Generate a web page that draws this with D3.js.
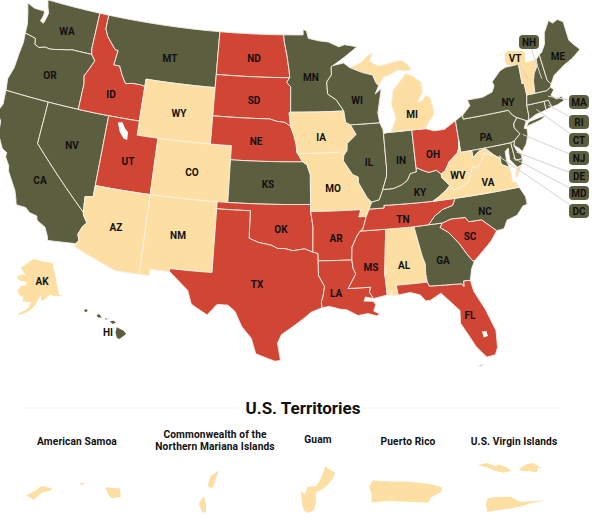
<!DOCTYPE html>
<html><head><meta charset="utf-8">
<script src="https://cdn.jsdelivr.net/npm/d3@7"></script>
<style>html,body{margin:0;padding:0;background:#fff}svg{display:block}text{font-family:Roboto,sans-serif}</style>
</head><body><svg id="c" width="600" height="523"></svg>
<script>
// ---- Data: status groups ----
const groupOlive=["WA","OR","CA","NV","MT","MN","WI","IL","IN","KY","KS","NY","PA","NC","GA","HI","ME","NH","MA","RI","CT","NJ","DE","MD","DC"];
const groupRed=["ID","UT","ND","SD","NE","OK","TX","AR","LA","MS","TN","SC","FL","OH"];
const groupCream=["WY","CO","AZ","NM","IA","MO","MI","AL","WV","VA","VT","AK"];
const territoryNames=[["American Samoa"],["Commonwealth of the","Northern Mariana Islands"],["Guam"],["Puerto Rico"],["U.S. Virgin Islands"]];
const sectionTitle="U.S. Territories";

// ---- Data: outlines as [lon,lat] rings ----
const WA=[[[-124.72,48.38],[-123.9,48.16],[-123.1,48.15],[-122.75,48.15],[-122.75,47.8],[-122.9,47.4],[-122.55,47.3],[-122.4,47.7],[-122.3,48.1],[-122.55,48.5],[-122.76,49],[-117.03,49],[-117.04,46.42],[-116.92,46],[-119,46],[-119.3,45.93],[-119.9,45.85],[-120.6,45.73],[-121.2,45.65],[-121.7,45.7],[-122.3,45.55],[-122.8,45.7],[-122.9,46.1],[-123.2,46.15],[-124.05,46.27],[-124.1,46.9],[-124.4,47.7]]];
const OR=[[[-124.05,46.27],[-123.2,46.15],[-122.9,46.1],[-122.8,45.7],[-122.3,45.55],[-121.7,45.7],[-121.2,45.65],[-120.6,45.73],[-119.9,45.85],[-119.3,45.93],[-119,46],[-116.92,46],[-116.47,45.6],[-116.85,44.95],[-117.2,44.4],[-117.03,43.85],[-117.03,42],[-120,42],[-124.21,42],[-124.4,42.8],[-124.1,43.7],[-124.05,44.7],[-123.95,45.6]]];
const CA=[[[-124.21,42],[-120,42],[-120,39],[-114.63,35],[-114.57,34.8],[-114.14,34.3],[-114.45,34],[-114.72,33.4],[-114.53,33],[-114.72,32.72],[-117.12,32.53],[-117.25,32.85],[-117.6,33.4],[-118.4,33.75],[-118.5,34.03],[-119.2,34.15],[-119.6,34.42],[-120.47,34.45],[-120.65,34.9],[-120.9,35.4],[-121.9,36.6],[-122,36.95],[-122.5,37.5],[-122.5,37.8],[-123,38],[-123.7,38.9],[-123.85,39.8],[-124.4,40.4],[-124.1,41],[-124.2,41.75]]];
const NV=[[[-120,42],[-117.03,42],[-114.04,42],[-114.04,37],[-114.04,36.2],[-114.75,36.1],[-114.63,35],[-120,39]]];
const ID=[[[-117.03,49],[-116.05,49],[-116.05,48],[-115.7,47.5],[-114.7,46.7],[-114.35,46.65],[-114.5,45.6],[-113.9,45.6],[-113.45,44.95],[-113,44.45],[-112.3,44.55],[-111.5,44.55],[-111.05,44.48],[-111.05,42],[-114.04,42],[-117.03,42],[-117.03,43.85],[-117.2,44.4],[-116.85,44.95],[-116.47,45.6],[-116.92,46],[-117.04,46.42]]];
const MT=[[[-116.05,49],[-104.05,49],[-104.05,45.94],[-104.05,45],[-111.05,45],[-111.05,44.48],[-111.5,44.55],[-112.3,44.55],[-113,44.45],[-113.45,44.95],[-113.9,45.6],[-114.5,45.6],[-114.35,46.65],[-114.7,46.7],[-115.7,47.5],[-116.05,48]]];
const WY=[[[-111.05,45],[-104.05,45],[-104.05,43],[-104.05,41],[-109.05,41],[-111.05,41],[-111.05,42],[-111.05,44.48]]];
const UT=[[[-114.04,42],[-111.05,42],[-111.05,41],[-109.05,41],[-109.05,37],[-114.04,37]]];
const AZ=[[[-114.04,37],[-109.05,37],[-109.05,31.33],[-111.07,31.33],[-114.81,32.5],[-114.72,32.72],[-114.53,33],[-114.72,33.4],[-114.45,34],[-114.14,34.3],[-114.57,34.8],[-114.63,35],[-114.75,36.1],[-114.04,36.2]]];
const CO=[[[-109.05,41],[-104.05,41],[-102.05,41],[-102.05,40],[-102.05,37],[-103,37],[-109.05,37]]];
const NM=[[[-109.05,37],[-103,37],[-103,36.5],[-103,32],[-106.62,32],[-106.53,31.78],[-108.21,31.78],[-108.21,31.33],[-109.05,31.33]]];
const ND=[[[-104.05,49],[-97.23,49],[-97.15,48.5],[-96.85,47.5],[-96.6,46.35],[-96.56,45.94],[-104.05,45.94]]];
const SD=[[[-104.05,45.94],[-96.56,45.94],[-96.85,45.6],[-96.45,45.3],[-96.45,43.5],[-96.6,43.45],[-96.44,42.49],[-97,42.77],[-97.85,42.85],[-98.5,43],[-104.05,43],[-104.05,45]]];
const NE=[[[-104.05,43],[-98.5,43],[-97.85,42.85],[-97,42.77],[-96.44,42.49],[-96.1,41.8],[-95.9,41.2],[-95.85,40.7],[-95.31,40],[-102.05,40],[-102.05,41],[-104.05,41]]];
const KS=[[[-102.05,40],[-95.31,40],[-94.9,39.8],[-94.6,39.1],[-94.62,37],[-102.05,37]]];
const OK=[[[-103,37],[-102.05,37],[-94.62,37],[-94.62,36.5],[-94.43,35.4],[-94.48,33.64],[-95.2,33.88],[-96.2,33.75],[-96.9,33.9],[-97.5,33.9],[-98.1,34.13],[-99.2,34.3],[-100,34.56],[-100,36.5],[-103,36.5]]];
const TX=[[[-106.62,32],[-103,32],[-103,36.5],[-100,36.5],[-100,34.56],[-99.2,34.3],[-98.1,34.13],[-97.5,33.9],[-96.9,33.9],[-96.2,33.75],[-95.2,33.88],[-94.48,33.64],[-94.04,33.55],[-94.04,33.02],[-94.04,32],[-93.55,31.2],[-93.7,30.5],[-93.85,30.1],[-93.8,29.7],[-94.7,29.4],[-95.1,29.1],[-96,28.5],[-97.1,27.8],[-97.4,27.2],[-97.15,25.96],[-97.6,25.9],[-99.1,26.4],[-99.5,27.5],[-100.3,28.3],[-100.9,29.35],[-101.5,29.77],[-102.4,29.77],[-103.15,28.98],[-104.5,29.65],[-104.9,30.6],[-106,31.4],[-106.53,31.78]]];
const MN=[[[-97.23,49],[-95.15,49],[-95.15,49.38],[-94.8,49.3],[-94.6,48.75],[-93.5,48.55],[-92.5,48.45],[-91.4,48.07],[-90.8,48.2],[-89.5,48],[-90.9,47.3],[-92.1,46.75],[-92.29,46.65],[-92.29,46.1],[-92.8,45.6],[-92.75,44.75],[-91.9,44.3],[-91.22,43.5],[-96.45,43.5],[-96.45,45.3],[-96.85,45.6],[-96.56,45.94],[-96.6,46.35],[-96.85,47.5],[-97.15,48.5]]];
const IA=[[[-96.45,43.5],[-91.22,43.5],[-91.1,42.7],[-90.65,42.5],[-90.15,41.8],[-91.05,41.2],[-91.1,40.7],[-91.42,40.38],[-91.73,40.61],[-95.77,40.58],[-95.85,40.7],[-95.9,41.2],[-96.1,41.8],[-96.44,42.49],[-96.6,43.45]]];
const MO=[[[-95.77,40.58],[-91.73,40.61],[-91.42,40.38],[-91.5,40],[-90.7,39],[-90.2,38.8],[-90.2,38.4],[-89.5,37.3],[-89.13,36.98],[-89.4,36.5],[-89.7,36],[-90.37,36],[-90.15,36.5],[-94.62,36.5],[-94.62,37],[-94.6,39.1],[-94.9,39.8],[-95.31,40],[-95.85,40.7]]];
const AR=[[[-94.62,36.5],[-90.15,36.5],[-90.37,36],[-89.7,36],[-90.07,35.13],[-90.3,35],[-90.6,34.7],[-91.1,33.9],[-91.17,33],[-94.04,33.02],[-94.04,33.55],[-94.48,33.64],[-94.43,35.4]]];
const LA=[[[-94.04,33.02],[-91.17,33],[-91.1,32.4],[-90.9,32],[-91.6,31],[-89.73,31],[-89.85,30.65],[-89.55,30.18],[-90.2,30.33],[-90.35,30.05],[-89.6,30],[-89.4,29.75],[-89.6,29.3],[-89.1,29.05],[-89.4,28.95],[-90.1,29.15],[-90.9,29.05],[-91.8,29.5],[-92.3,29.55],[-93.2,29.78],[-93.8,29.7],[-93.85,30.1],[-93.7,30.5],[-93.55,31.2],[-94.04,32]]];
const MS=[[[-91.17,33],[-91.1,33.9],[-90.6,34.7],[-90.3,35],[-88.2,35],[-88.1,34.9],[-88.47,31.9],[-88.4,30.37],[-89.55,30.18],[-89.85,30.65],[-89.73,31],[-91.6,31],[-90.9,32],[-91.1,32.4]]];
const AL=[[[-88.2,35],[-85.6,34.98],[-85.18,32.87],[-85,32.3],[-85.05,31.55],[-85,31],[-87.6,31],[-87.5,30.3],[-88,30.25],[-88,30.65],[-88.1,30.35],[-88.4,30.37],[-88.47,31.9],[-88.1,34.9]]];
const FL=[[[-87.6,31],[-85,31],[-84.86,30.7],[-82.2,30.57],[-82.05,30.36],[-82,30.75],[-81.45,30.71],[-81.3,29.9],[-80.6,28.5],[-80.05,26.9],[-80.15,25.7],[-80.4,25.2],[-81.1,25.13],[-81.8,26],[-82.2,26.8],[-82.75,27.8],[-82.65,28.7],[-83.4,29.5],[-84,30.1],[-84.9,29.7],[-85.3,29.68],[-85.7,30.15],[-86.5,30.4],[-87.5,30.3]],[[-81.9,24.6],[-81.4,24.65],[-81.6,24.55]]];
const GA=[[[-85.6,34.98],[-84.32,35],[-83.11,35],[-83.35,34.7],[-82.7,34.3],[-81.9,33.4],[-81.4,32.6],[-81,32.05],[-80.85,32.03],[-81.2,31.5],[-81.45,30.71],[-82,30.75],[-82.05,30.36],[-82.2,30.57],[-84.86,30.7],[-85,31],[-85.05,31.55],[-85,32.3],[-85.18,32.87]]];
const SC=[[[-83.11,35],[-82.3,35.2],[-81.05,35.15],[-80.8,34.82],[-79.67,34.8],[-78.55,33.86],[-79.2,33.2],[-79.9,32.7],[-80.85,32.03],[-81,32.05],[-81.4,32.6],[-81.9,33.4],[-82.7,34.3],[-83.35,34.7]]];
const NC=[[[-84.32,35],[-83.11,35],[-82.3,35.2],[-81.05,35.15],[-80.8,34.82],[-79.67,34.8],[-78.55,33.86],[-77.9,33.9],[-77.5,34.45],[-76.55,34.65],[-75.9,35.2],[-75.5,35.25],[-75.5,35.8],[-75.87,36.55],[-81.68,36.59],[-82,36.12],[-82.9,35.95],[-83.7,35.55]]];
const TN=[[[-90.3,35],[-88.2,35],[-85.6,34.98],[-84.32,35],[-83.7,35.55],[-82.9,35.95],[-82,36.12],[-81.68,36.59],[-83.68,36.6],[-88.07,36.68],[-88.07,36.5],[-89.4,36.5],[-89.7,36],[-90.07,35.13]]];
const KY=[[[-89.4,36.5],[-88.07,36.5],[-88.07,36.68],[-83.68,36.6],[-83.1,36.85],[-82.3,37.3],[-81.97,37.54],[-82.6,38.17],[-82.6,38.42],[-83,38.73],[-83.7,38.65],[-84.25,38.85],[-84.82,39.1],[-84.85,38.8],[-85.4,38.73],[-85.75,38.27],[-86.3,38],[-87.1,37.8],[-88.05,37.8],[-88.45,37.1],[-89.13,36.98]]];
const IL=[[[-90.65,42.5],[-87.8,42.5],[-87.55,42],[-87.53,41.7],[-87.53,39.35],[-87.6,38.7],[-88.05,37.8],[-88.45,37.1],[-89.13,36.98],[-89.5,37.3],[-90.2,38.4],[-90.2,38.8],[-90.7,39],[-91.5,40],[-91.42,40.38],[-91.1,40.7],[-91.05,41.2],[-90.15,41.8]]];
const IN=[[[-87.53,41.7],[-87.2,41.75],[-86.82,41.76],[-84.8,41.76],[-84.82,39.1],[-84.85,38.8],[-85.4,38.73],[-85.75,38.27],[-86.3,38],[-87.1,37.8],[-88.05,37.8],[-87.6,38.7],[-87.53,39.35]]];
const OH=[[[-84.8,41.76],[-83.45,41.73],[-82.7,41.5],[-81.7,41.5],[-80.52,41.98],[-80.52,40.64],[-80.65,40],[-80.85,39.7],[-81.7,39.2],[-82.2,38.6],[-82.6,38.42],[-83,38.73],[-83.7,38.65],[-84.25,38.85],[-84.82,39.1]]];
const MI=[[[-86.82,41.76],[-84.8,41.76],[-83.45,41.73],[-83.15,42.1],[-82.5,42.6],[-82.45,43],[-82.6,43.85],[-83,44.07],[-83.5,43.7],[-83.9,43.65],[-83.3,44.3],[-83.3,45],[-84,45.5],[-84.75,45.78],[-85.5,45.2],[-86.2,44.7],[-86.5,43.7],[-86.2,42.7]],[[-90.4,46.55],[-89.2,46.85],[-88.4,47.35],[-87.9,47.47],[-88.3,46.9],[-87.4,46.5],[-85.9,46.68],[-85,46.75],[-84.5,46.45],[-84.1,46],[-84.7,45.95],[-85.5,46.08],[-86.4,45.8],[-87,45.7],[-87.6,45.1],[-87.85,45.35],[-88.1,45.9],[-89.1,46.13]]];
const WI=[[[-92.1,46.75],[-91,46.9],[-90.4,46.55],[-89.1,46.13],[-88.1,45.9],[-87.85,45.35],[-87.6,45.1],[-88,44.55],[-87.35,44.9],[-87.55,44.3],[-87.9,43.2],[-87.8,42.5],[-90.65,42.5],[-91.1,42.7],[-91.22,43.5],[-91.9,44.3],[-92.75,44.75],[-92.8,45.6],[-92.29,46.1],[-92.29,46.65]]];
const PA=[[[-80.52,41.98],[-80.1,42.15],[-79.76,42.27],[-79.76,42],[-75.35,42],[-75.05,41.6],[-74.7,41.36],[-75.1,41],[-75.15,40.7],[-74.75,40.2],[-75.4,39.8],[-75.79,39.72],[-79.48,39.72],[-80.52,39.72],[-80.52,40.64]]];
const NY=[[[-79.76,42.27],[-78.9,42.85],[-79.05,43.27],[-77.5,43.27],[-76.5,43.5],[-76.2,43.9],[-76.3,44.2],[-75.3,44.85],[-74.7,45],[-73.35,45],[-73.45,43.6],[-73.25,43.6],[-73.27,42.75],[-73.5,42.05],[-73.55,41.3],[-73.65,41],[-73.9,41],[-74.7,41.36],[-75.05,41.6],[-75.35,42],[-79.76,42]],[[-74,40.6],[-72.6,40.8],[-71.9,41.05],[-72.6,41],[-73.7,40.87]]];
const NJ=[[[-73.9,41],[-74.7,41.36],[-75.1,41],[-75.15,40.7],[-74.75,40.2],[-75.4,39.8],[-75.55,39.5],[-75.1,39.2],[-74.9,38.95],[-74.4,39.4],[-74.05,40],[-74,40.45],[-74.25,40.5]]];
const DE=[[[-75.79,39.72],[-75.4,39.8],[-75.55,39.5],[-75.4,39.1],[-75.05,38.75],[-75.05,38.45],[-75.7,38.46]]];
const MD=[[[-79.48,39.72],[-75.79,39.72],[-75.7,38.46],[-75.05,38.45],[-75.2,38.03],[-75.65,37.95],[-75.9,38.25],[-76.2,38.6],[-76.1,39.4],[-76.45,39.2],[-76.5,38.5],[-76.35,38.05],[-76.9,38.3],[-77.05,38.4],[-77.04,38.8],[-77.5,39.1],[-77.75,39.3],[-78.2,39.68],[-78.8,39.6],[-79.48,39.2]]];
const DC=[[[-77.12,38.93],[-77.04,39],[-76.91,38.89],[-77.04,38.79]]];
const VA=[[[-83.68,36.6],[-81.68,36.59],[-75.87,36.55],[-76,36.93],[-76.35,37],[-76.3,37.6],[-76.35,38.05],[-76.9,38.3],[-77.05,38.4],[-77.04,38.8],[-77.5,39.1],[-77.75,39.3],[-77.83,39.14],[-78.35,39.4],[-78.87,38.76],[-79.3,38.42],[-79.65,38.6],[-80.3,37.55],[-81.2,37.25],[-81.68,37.2],[-81.97,37.54],[-82.3,37.3],[-83.1,36.85]],[[-75.65,37.95],[-75.2,38.03],[-75.95,37.15],[-75.95,37.5]]];
const WV=[[[-80.52,40.64],[-80.52,39.72],[-79.48,39.72],[-79.48,39.2],[-78.8,39.6],[-78.2,39.68],[-77.75,39.3],[-77.83,39.14],[-78.35,39.4],[-78.87,38.76],[-79.3,38.42],[-79.65,38.6],[-80.3,37.55],[-81.2,37.25],[-81.68,37.2],[-81.97,37.54],[-82.6,38.17],[-82.6,38.42],[-82.2,38.6],[-81.7,39.2],[-80.85,39.7],[-80.65,40]]];
const CT=[[[-73.5,42.05],[-71.8,42.02],[-71.8,41.4],[-72.9,41.25],[-73.65,41],[-73.55,41.3]]];
const RI=[[[-71.8,42.02],[-71.38,42.02],[-71.2,41.5],[-71.8,41.4]]];
const MA=[[[-73.5,42.05],[-73.27,42.75],[-72.46,42.73],[-71.3,42.7],[-70.85,42.87],[-70.6,42.65],[-71,42.3],[-70.6,41.95],[-70.05,42.05],[-69.95,41.7],[-70.6,41.55],[-71.2,41.5],[-71.38,42.02],[-71.8,42.02]]];
const VT=[[[-73.35,45],[-71.5,45.01],[-71.55,44.6],[-72.05,44.1],[-72.3,43.6],[-72.46,42.73],[-73.27,42.75],[-73.25,43.6],[-73.45,43.6]]];
const NH=[[[-71.5,45.01],[-71.08,45.3],[-70.98,43.4],[-70.7,43.07],[-70.85,42.87],[-71.3,42.7],[-72.46,42.73],[-72.3,43.6],[-72.05,44.1],[-71.55,44.6]]];
const ME=[[[-71.08,45.3],[-70.8,45.4],[-70.3,45.9],[-70,46.7],[-69.23,47.46],[-68.9,47.2],[-68.3,47.35],[-67.8,47.07],[-67.8,45.7],[-67.45,45.3],[-67,44.85],[-68,44.4],[-69,44.1],[-70.2,43.6],[-70.7,43.07],[-70.98,43.4]]];
const AK=[[[-141,69.65],[-141,60.3],[-139.5,59.9],[-137.3,59.3],[-139.5,59.7],[-141,59.9],[-143.5,60],[-146,60.7],[-148.5,60],[-150,59.3],[-151.8,59.2],[-151.3,60.8],[-150,61.2],[-152,60.5],[-153.5,59.5],[-154.5,58.2],[-156.5,57],[-158.5,56],[-161,55.2],[-164,54.6],[-162,55.8],[-160,56.2],[-158,57.5],[-157.2,58.8],[-159,58.6],[-162,58.7],[-162,59.9],[-164.5,60.5],[-166,61.6],[-165,62.6],[-164,63.1],[-161,63.5],[-161,64.5],[-163,64.5],[-166.5,64.6],[-168,65.6],[-164.5,66.5],[-162,66.2],[-163.8,67.1],[-166.5,68.3],[-163,69.5],[-160,70.5],[-156.5,71.3],[-152,70.8],[-148,70.4],[-144,70]]];
const HI=[[[-155.9,20.25],[-155.1,19.85],[-154.8,19.5],[-155.6,18.95],[-155.9,19.1],[-156.05,19.7]],[[-156.7,20.9],[-156.25,20.95],[-156,20.75],[-156.4,20.6]],[[-157.3,21.2],[-156.75,21.17],[-157.25,21.08]],[[-158.25,21.55],[-157.95,21.7],[-157.65,21.3],[-158.1,21.3]],[[-159.75,22.1],[-159.4,22.23],[-159.3,22],[-159.6,21.9]]];
const lakes=[[[-113.06,41.65],[-112.63,41.72],[-112.26,41.3],[-111.94,41.1],[-111.9,40.54],[-112.27,40.6],[-112.73,41.03]],[[-81.15,27.0],[-80.8,26.95],[-80.75,26.6],[-81.1,26.55]]];
const AS=[[[-171,-14.336],[-170.876,-14.277],[-170.75,-14.19],[-170.6,-14.23],[-170.63,-14.26],[-170.75,-14.287],[-170.876,-14.395],[-170.95,-14.346]],[[-170.2,-14.15],[-170.11,-14.15],[-170.16,-14.18]],[[-169.81,-14.21],[-169.59,-14.23],[-169.58,-14.35],[-169.71,-14.37],[-169.76,-14.33]]];
const MP=[[[145.8,15.3],[145.773,15.23],[145.741,15.134],[145.693,15.134],[145.693,15.172],[145.715,15.242]],[[145.651,15.05],[145.67,14.964],[145.67,14.89],[145.629,14.9],[145.6,14.974],[145.622,15.018]]];
const GU=[[[144.845,13.65],[144.878,13.62],[144.935,13.59],[144.908,13.53],[144.839,13.455],[144.758,13.41],[144.758,13.32],[144.74,13.254],[144.689,13.23],[144.644,13.254],[144.629,13.335],[144.62,13.425],[144.659,13.395],[144.68,13.464],[144.758,13.47],[144.8,13.53],[144.824,13.59]]];
const PR=[[[-67.27,18.44],[-67.21,18.52],[-66.97,18.506],[-66.73,18.506],[-66.397,18.472],[-66.278,18.444],[-66.22,18.425],[-66.23,18.363],[-66.373,18.29],[-66.42,18.22],[-66.73,18.229],[-66.97,18.243],[-67.232,18.22],[-67.232,18.339]]];
const VI=[[[-65.1,18.393],[-65.064,18.4],[-65.034,18.388],[-65.022,18.396],[-64.992,18.384],[-64.974,18.372],[-65.004,18.366],[-65.034,18.372],[-65.064,18.384]],[[-64.946,18.381],[-64.92,18.396],[-64.896,18.4],[-64.878,18.39],[-64.86,18.381],[-64.878,18.384],[-64.882,18.366],[-64.908,18.372],[-64.938,18.372]],[[-65.064,18.276],[-65.04,18.28],[-64.98,18.282],[-64.944,18.264],[-64.854,18.268],[-64.908,18.258],[-64.944,18.246],[-64.98,18.24],[-65.028,18.234],[-65.064,18.228],[-65.07,18.252]]];
const calloutCodes=["NH","VT","MA","RI","CT","NJ","DE","MD","DC"];
const calloutTargets=[[-71.45,43.6],[-72.75,43.8],[-71.3,42.3],[-71.5,41.7],[-72.7,41.6],[-74.5,40.1],[-75.45,39.0],[-75.85,38.65],[-77.03,38.9]];
const outlines={WA,OR,CA,NV,ID,MT,WY,UT,AZ,CO,NM,ND,SD,NE,KS,OK,TX,MN,IA,MO,AR,LA,MS,AL,FL,GA,SC,NC,TN,KY,IL,IN,OH,MI,WI,PA,NY,NJ,DE,MD,DC,VA,WV,CT,RI,MA,VT,NH,ME};

// ---- Layout ----
const C={olive:"#5c5e40",red:"#d14535",cream:"#fddfa3",line:"#f6f0e6",ink:"#111"};
const labelAt={WA:[67,31],OR:[50,75],CA:[40,180],NV:[72,145],ID:[111,94],MT:[170,58],WY:[179,113],UT:[128,161],AZ:[116,227],CO:[192,172],NM:[178,235],ND:[254,58],SD:[254,100],NE:[256,141],KS:[268,184],OK:[281,229],TX:[257,284],MN:[311,77],IA:[321,137],MO:[333,188],AR:[336,238],LA:[336,293],WI:[357,100],IL:[369,162],MS:[371,267],IN:[401,160],AL:[404,265],MI:[412,114],OH:[433,154],KY:[420,192],TN:[403,219],WV:[458,175],VA:[488,182],PA:[486,137],NY:[508,102],NC:[485,211],SC:[470,236],GA:[443,260],FL:[470,315],ME:[558,56],AK:[42,281],HI:[108,332]};
const badgeAt={NH:[529,42],VT:[515,58],MA:[579,102],RI:[579,122],CT:[579,140],NJ:[579,158],DE:[579,176],MD:[579,193],DC:[579,211]};
const territoryBoxes=[[[25,483],[121,500]],[[199,470],[219,513]],[[300,466],[336,513]],[[369,480],[442,503]],[[477,463],[545,512]]];
const territoryLabelX=[77,215,318,408,514];
const territoryLabelY=[441,434,439,441,441];

// ---- Helpers ----
function dens(ring){const out=[];const n=ring.length;for(let i=0;i<n;i++){const a=ring[i],b=ring[(i+1)%n];const d=Math.max(Math.abs(a[0]-b[0]),Math.abs(a[1]-b[1]));const k=Math.max(1,Math.ceil(d/0.5));for(let j=0;j<k;j++)out.push([a[0]+(b[0]-a[0])*j/k,a[1]+(b[1]-a[1])*j/k]);}return out;}
function poly(ring){let r=dens(ring);r.push(r[0]);let g={type:"Polygon",coordinates:[r]};if(d3.geoArea(g)>2*Math.PI){g={type:"Polygon",coordinates:[r.slice().reverse()]};}return g.coordinates;}
function feat(rings,id){return {type:"Feature",id,geometry:{type:"MultiPolygon",coordinates:rings.map(poly)}};}
const colorOf=id=>groupOlive.includes(id)?C.olive:groupRed.includes(id)?C.red:C.cream;

const svg=d3.select("#c");
const feats=Object.keys(outlines).map(k=>feat(outlines[k],k));
const proj=d3.geoAlbers().fitExtent([[3,3],[582,362]],{type:"FeatureCollection",features:feats});
const t0=proj.translate();
proj.scale(proj.scale()*1.02).translate([t0[0]*1.02-9.6,t0[1]*1.02-3.2]);
const path=d3.geoPath(proj);
const gMap=svg.append("g");
gMap.selectAll("path.s").data(feats).join("path").attr("class","s").attr("d",path).attr("fill",d=>colorOf(d.id)).attr("stroke",C.line).attr("stroke-width",.9).attr("stroke-linejoin","round");
gMap.selectAll("path.l").data(lakes.map((l,i)=>feat([l],"lake"+i))).join("path").attr("class","l").attr("d",path).attr("fill","#fff");

const akF=feat(AK,"AK"),hiF=feat(HI,"HI");
const akP=d3.geoAlbers().parallels([55,65]).rotate([154,0]).center([0,64]).fitExtent([[17,258],[66,316]],akF);
const hiP=d3.geoMercator().fitExtent([[83,309],[127,339]],hiF);
gMap.append("path").datum(akF).attr("d",d3.geoPath(akP)).attr("fill",C.cream);
gMap.append("path").datum(hiF).attr("d",d3.geoPath(hiP)).attr("fill",C.olive);

// state labels
svg.append("g").selectAll("text").data(Object.keys(labelAt)).join("text")
 .attr("x",d=>labelAt[d][0]).attr("y",d=>labelAt[d][1]).attr("dy","0.36em").attr("text-anchor","middle")
 .attr("font-size",10).attr("font-weight",700).attr("fill",C.ink).text(d=>d);

// callouts
const gC=svg.append("g");
calloutCodes.forEach((c,i)=>{const t=proj(calloutTargets[i]),b=badgeAt[c];
 gC.append("line").attr("x1",b[0]).attr("y1",b[1]).attr("x2",t[0]).attr("y2",t[1]).attr("stroke","#d4d4d4").attr("stroke-width",1);});
calloutCodes.forEach(c=>{const b=badgeAt[c];
 gC.append("rect").attr("x",b[0]-10).attr("y",b[1]-7).attr("width",20).attr("height",14).attr("rx",4).attr("fill",colorOf(c));
 gC.append("text").attr("x",b[0]).attr("y",b[1]).attr("dy","0.36em").attr("text-anchor","middle").attr("font-size",10).attr("font-weight",700).attr("fill",C.ink).text(c);});

// territories header
svg.append("line").attr("x1",23).attr("x2",238).attr("y1",408).attr("y2",408).attr("stroke","#f1f1f1");
svg.append("line").attr("x1",362).attr("x2",560).attr("y1",408).attr("y2",408).attr("stroke","#f1f1f1");
svg.append("text").attr("x",303).attr("y",408).attr("dy","0.36em").attr("text-anchor","middle").attr("font-size",17).attr("font-weight",700).attr("fill",C.ink).text(sectionTitle);

[AS,MP,GU,PR,VI].forEach((rings,i)=>{const f=feat(rings,"t"+i);
 const p=d3.geoMercator().fitExtent(territoryBoxes[i],f);
 svg.append("path").datum(f).attr("d",d3.geoPath(p)).attr("fill",C.cream);
 territoryNames[i].forEach((ln,j)=>svg.append("text").attr("text-anchor","middle").attr("font-size",10.2).attr("letter-spacing",0.12).attr("font-weight",700).attr("fill",C.ink).attr("x",territoryLabelX[i]).attr("y",territoryLabelY[i]+j*12).attr("dy","0.36em").text(ln));
});
</script></body></html>
